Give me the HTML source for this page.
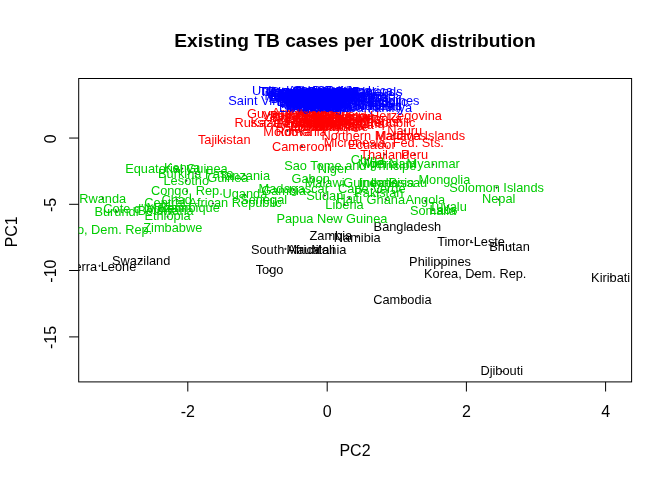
<!DOCTYPE html>
<html><head><meta charset="utf-8"><style>
html,body{margin:0;padding:0;background:#fff;}
svg{display:block;will-change:transform;font-family:"Liberation Sans",sans-serif;}
</style></head><body>
<svg width="672" height="480" viewBox="0 0 672 480">
<rect x="0" y="0" width="672" height="480" fill="#fff"/>
<text x="355" y="46.6" font-size="19.2" font-weight="bold" text-anchor="middle">Existing TB cases per 100K distribution</text>
<g stroke="#000" stroke-width="1" fill="none">
<rect x="78.7" y="78.5" width="552.9" height="303.4"/>
<path d="M187.8 381.9v9.6M327.2 381.9v9.6M466.4 381.9v9.6M605.6 381.9v9.6"/>
<path d="M78.7 138.06h-9.6M78.7 204.3h-9.6M78.7 270.5h-9.6M78.7 336.9h-9.6"/>
</g>
<g font-size="16" text-anchor="middle">
<text x="187.8" y="416.8">-2</text>
<text x="327.2" y="416.8">0</text>
<text x="466.4" y="416.8">2</text>
<text x="605.6" y="416.8">4</text>
<text x="355" y="455.7">PC2</text>
<g transform="rotate(-90)">
<text x="-138.7" y="55.9">0</text>
<text x="-204.9" y="55.9">-5</text>
<text x="-271.1" y="55.9">-10</text>
<text x="-337.5" y="55.9">-15</text>
<text x="-231.8" y="17.2">PC1</text>
</g>
</g>
<defs><clipPath id="plotclip"><rect x="78.7" y="78.5" width="552.9" height="303.4"/></clipPath></defs>
<g fill="none" stroke="#000" stroke-width="1" clip-path="url(#plotclip)"><circle cx="425.3" cy="200.9" r="0.6"/><circle cx="407.4" cy="227.2" r="0.6"/><circle cx="509.6" cy="245.8" r="0.6"/><circle cx="372.2" cy="117.1" r="0.6"/><circle cx="195.7" cy="173.3" r="0.6"/><circle cx="116.5" cy="211.4" r="0.6"/><circle cx="402.4" cy="299.4" r="0.6"/><circle cx="301.9" cy="146.2" r="0.6"/><circle cx="371.8" cy="189.3" r="0.6"/><circle cx="213.0" cy="203.4" r="0.6"/><circle cx="176.7" cy="199.5" r="0.6"/><circle cx="367.4" cy="159.7" r="0.6"/><circle cx="186.8" cy="191.3" r="0.6"/><circle cx="475.2" cy="274.6" r="0.6"/><circle cx="501.7" cy="371.5" r="0.6"/><circle cx="371.8" cy="143.8" r="0.6"/><circle cx="176.4" cy="169.8" r="0.6"/><circle cx="167.5" cy="216.8" r="0.6"/><circle cx="310.7" cy="178.1" r="0.6"/><circle cx="385.8" cy="199.3" r="0.6"/><circle cx="269.4" cy="114.5" r="0.6"/><circle cx="349.2" cy="198.2" r="0.6"/><circle cx="182.1" cy="168.6" r="0.6"/><circle cx="610.7" cy="277.0" r="0.6"/><circle cx="186.3" cy="180.7" r="0.6"/><circle cx="344.5" cy="204.5" r="0.6"/><circle cx="293.7" cy="189.8" r="0.6"/><circle cx="324.6" cy="182.5" r="0.6"/><circle cx="323.0" cy="249.6" r="0.6"/><circle cx="316.5" cy="249.6" r="0.6"/><circle cx="383.8" cy="143.6" r="0.6"/><circle cx="433.2" cy="164.6" r="0.6"/><circle cx="357.3" cy="236.8" r="0.6"/><circle cx="404.7" cy="130.4" r="0.6"/><circle cx="498.7" cy="199.6" r="0.6"/><circle cx="333.0" cy="169.6" r="0.6"/><circle cx="393.3" cy="135.3" r="0.6"/><circle cx="378.8" cy="192.4" r="0.6"/><circle cx="331.9" cy="219.5" r="0.6"/><circle cx="414.5" cy="154.2" r="0.6"/><circle cx="440.1" cy="263.1" r="0.6"/><circle cx="287.5" cy="130.9" r="0.6"/><circle cx="301.1" cy="131.7" r="0.6"/><circle cx="289.9" cy="122.4" r="0.6"/><circle cx="102.7" cy="198.0" r="0.6"/><circle cx="323.9" cy="99.8" r="0.6"/><circle cx="350.3" cy="166.8" r="0.6"/><circle cx="263.7" cy="200.2" r="0.6"/><circle cx="99.6" cy="265.8" r="0.6"/><circle cx="496.6" cy="187.6" r="0.6"/><circle cx="433.0" cy="210.2" r="0.6"/><circle cx="285.4" cy="248.9" r="0.6"/><circle cx="324.8" cy="195.5" r="0.6"/><circle cx="141.2" cy="260.5" r="0.6"/><circle cx="224.2" cy="141.0" r="0.6"/><circle cx="384.8" cy="154.4" r="0.6"/><circle cx="471.1" cy="241.0" r="0.6"/><circle cx="269.6" cy="270.7" r="0.6"/><circle cx="447.9" cy="206.1" r="0.6"/><circle cx="244.9" cy="194.8" r="0.6"/><circle cx="244.4" cy="175.0" r="0.6"/><circle cx="330.8" cy="235.2" r="0.6"/></g>
<g clip-path="url(#plotclip)" font-size="12.8">
<text x="285.6" y="101.0" fill="#0000FF">Afghanistan</text>
<text x="281.1" y="97.0" fill="#0000FF">Albania</text>
<text x="282.7" y="129.7" fill="#FF0000">Algeria</text>
<text x="276.3" y="99.6" fill="#0000FF">American Samoa</text>
<text x="287.9" y="95.0" fill="#0000FF">Andorra</text>
<text x="405.4" y="204.2" fill="#00CD00">Angola</text>
<text x="291.7" y="112.5" fill="#0000FF">Anguilla</text>
<text x="269.1" y="102.2" fill="#0000FF">Antigua and Barbuda</text>
<text x="279.0" y="99.8" fill="#0000FF">Argentina</text>
<text x="271.7" y="116.9" fill="#FF0000">Armenia</text>
<text x="286.7" y="98.2" fill="#0000FF">Australia</text>
<text x="313.5" y="97.7" fill="#0000FF">Austria</text>
<text x="276.4" y="126.7" fill="#FF0000">Azerbaijan</text>
<text x="270.5" y="102.8" fill="#0000FF">Bahamas</text>
<text x="278.4" y="104.8" fill="#0000FF">Bahrain</text>
<text x="373.6" y="230.5" fill="#000000">Bangladesh</text>
<text x="293.5" y="101.6" fill="#0000FF">Barbados</text>
<text x="311.1" y="119.3" fill="#FF0000">Belarus</text>
<text x="312.2" y="95.1" fill="#0000FF">Belgium</text>
<text x="307.5" y="109.7" fill="#0000FF">Belize</text>
<text x="158.6" y="211.5" fill="#00CD00">Benin</text>
<text x="269.2" y="100.8" fill="#0000FF">Bermuda</text>
<text x="489.3" y="250.5" fill="#000000">Bhutan</text>
<text x="298.7" y="127.1" fill="#FF0000">Bolivia</text>
<text x="302.5" y="120.4" fill="#FF0000">Bosnia and Herzegovina</text>
<text x="137.5" y="214.6" fill="#00CD00">Botswana</text>
<text x="317.5" y="124.1" fill="#FF0000">Brazil</text>
<text x="279.3" y="106.9" fill="#0000FF">British Virgin Islands</text>
<text x="267.9" y="96.0" fill="#0000FF">Brunei Darussalam</text>
<text x="285.7" y="107.1" fill="#0000FF">Bulgaria</text>
<text x="158.0" y="178.0" fill="#00CD00">Burkina Faso</text>
<text x="94.4" y="216.1" fill="#00CD00">Burundi</text>
<text x="373.2" y="304.1" fill="#000000">Cambodia</text>
<text x="272.0" y="150.9" fill="#FF0000">Cameroon</text>
<text x="282.1" y="96.9" fill="#0000FF">Canada</text>
<text x="338.0" y="192.6" fill="#00CD00">Cape Verde</text>
<text x="286.7" y="110.2" fill="#0000FF">Cayman Islands</text>
<text x="144.3" y="206.7" fill="#00CD00">Central African Republic</text>
<text x="161.4" y="204.2" fill="#00CD00">Chad</text>
<text x="316.6" y="108.0" fill="#0000FF">Chile</text>
<text x="350.7" y="164.4" fill="#00CD00">China</text>
<text x="292.9" y="105.5" fill="#0000FF">Colombia</text>
<text x="328.2" y="123.2" fill="#FF0000">Comoros</text>
<text x="150.9" y="194.6" fill="#00CD00">Congo, Rep.</text>
<text x="284.0" y="98.4" fill="#0000FF">Cook Islands</text>
<text x="291.9" y="97.8" fill="#0000FF">Costa Rica</text>
<text x="316.5" y="95.4" fill="#0000FF">Croatia</text>
<text x="310.1" y="103.7" fill="#0000FF">Cuba</text>
<text x="304.0" y="105.0" fill="#0000FF">Cyprus</text>
<text x="279.8" y="102.6" fill="#0000FF">Czech Republic</text>
<text x="103.3" y="212.7" fill="#00CD00">Cote d&#39;Ivoire</text>
<text x="424.0" y="277.9" fill="#000000">Korea, Dem. Rep.</text>
<text x="46.3" y="234.0" fill="#00CD00">Congo, Dem. Rep.</text>
<text x="276.8" y="105.7" fill="#0000FF">Denmark</text>
<text x="480.4" y="374.8" fill="#000000">Djibouti</text>
<text x="306.7" y="108.5" fill="#0000FF">Dominica</text>
<text x="301.5" y="126.6" fill="#FF0000">Dominican Republic</text>
<text x="348.0" y="148.5" fill="#FF0000">Ecuador</text>
<text x="313.1" y="104.6" fill="#0000FF">Egypt</text>
<text x="304.1" y="121.0" fill="#FF0000">El Salvador</text>
<text x="125.2" y="173.1" fill="#00CD00">Equatorial Guinea</text>
<text x="305.5" y="99.1" fill="#0000FF">Eritrea</text>
<text x="296.8" y="118.9" fill="#FF0000">Estonia</text>
<text x="144.4" y="220.1" fill="#00CD00">Ethiopia</text>
<text x="312.9" y="128.0" fill="#FF0000">Fiji</text>
<text x="273.3" y="97.5" fill="#0000FF">Finland</text>
<text x="290.5" y="109.5" fill="#0000FF">France</text>
<text x="278.7" y="99.4" fill="#0000FF">French Polynesia</text>
<text x="291.5" y="182.8" fill="#00CD00">Gabon</text>
<text x="261.2" y="194.8" fill="#00CD00">Gambia</text>
<text x="273.6" y="128.4" fill="#FF0000">Georgia</text>
<text x="269.9" y="96.4" fill="#0000FF">Germany</text>
<text x="366.6" y="204.0" fill="#00CD00">Ghana</text>
<text x="294.8" y="95.2" fill="#0000FF">Greece</text>
<text x="305.3" y="102.0" fill="#0000FF">Grenada</text>
<text x="284.8" y="109.3" fill="#0000FF">Guam</text>
<text x="302.3" y="130.1" fill="#FF0000">Guatemala</text>
<text x="207.2" y="182.2" fill="#00CD00">Guinea</text>
<text x="343.3" y="187.2" fill="#00CD00">Guinea-Bissau</text>
<text x="247.0" y="117.8" fill="#FF0000">Guyana</text>
<text x="336.4" y="202.9" fill="#00CD00">Haiti</text>
<text x="343.0" y="125.8" fill="#FF0000">Honduras</text>
<text x="313.1" y="103.1" fill="#0000FF">Hungary</text>
<text x="304.0" y="110.5" fill="#0000FF">Iceland</text>
<text x="370.8" y="187.2" fill="#00CD00">India</text>
<text x="358.8" y="186.9" fill="#00CD00">Indonesia</text>
<text x="305.2" y="98.0" fill="#0000FF">Iran</text>
<text x="318.4" y="126.2" fill="#FF0000">Iraq</text>
<text x="302.3" y="110.7" fill="#0000FF">Ireland</text>
<text x="310.1" y="101.2" fill="#0000FF">Israel</text>
<text x="307.7" y="103.5" fill="#0000FF">Italy</text>
<text x="307.9" y="100.6" fill="#0000FF">Jamaica</text>
<text x="292.6" y="106.2" fill="#0000FF">Japan</text>
<text x="293.5" y="107.8" fill="#0000FF">Jordan</text>
<text x="250.4" y="127.4" fill="#FF0000">Kazakhstan</text>
<text x="164.0" y="171.9" fill="#00CD00">Kenya</text>
<text x="591.1" y="281.7" fill="#000000">Kiribati</text>
<text x="311.3" y="101.8" fill="#0000FF">Kuwait</text>
<text x="286.1" y="118.4" fill="#FF0000">Kyrgyzstan</text>
<text x="429.6" y="214.2" fill="#00CD00">Laos</text>
<text x="317.4" y="123.6" fill="#FF0000">Latvia</text>
<text x="293.4" y="105.3" fill="#0000FF">Lebanon</text>
<text x="163.5" y="185.4" fill="#00CD00">Lesotho</text>
<text x="325.3" y="209.2" fill="#00CD00">Liberia</text>
<text x="279.0" y="112.2" fill="#0000FF">Libyan Arab Jamahiriya</text>
<text x="290.1" y="131.0" fill="#FF0000">Lithuania</text>
<text x="293.8" y="100.4" fill="#0000FF">Luxembourg</text>
<text x="258.5" y="193.1" fill="#00CD00">Madagascar</text>
<text x="304.7" y="187.2" fill="#00CD00">Malawi</text>
<text x="307.5" y="131.4" fill="#FF0000">Malaysia</text>
<text x="375.7" y="140.4" fill="#FF0000">Maldives</text>
<text x="311.3" y="254.3" fill="#000000">Mali</text>
<text x="319.9" y="106.6" fill="#0000FF">Malta</text>
<text x="286.6" y="254.3" fill="#000000">Mauritania</text>
<text x="286.7" y="100.0" fill="#0000FF">Mauritius</text>
<text x="288.9" y="111.2" fill="#0000FF">Mexico</text>
<text x="323.7" y="146.9" fill="#FF0000">Micronesia, Fed. Sts.</text>
<text x="293.6" y="98.5" fill="#0000FF">Monaco</text>
<text x="418.4" y="184.0" fill="#00CD00">Mongolia</text>
<text x="285.6" y="97.2" fill="#0000FF">Montserrat</text>
<text x="295.1" y="121.9" fill="#FF0000">Morocco</text>
<text x="146.5" y="211.7" fill="#00CD00">Mozambique</text>
<text x="406.5" y="167.9" fill="#00CD00">Myanmar</text>
<text x="333.8" y="241.5" fill="#000000">Namibia</text>
<text x="387.3" y="135.1" fill="#FF0000">Nauru</text>
<text x="482.0" y="202.9" fill="#00CD00">Nepal</text>
<text x="282.4" y="108.3" fill="#0000FF">Netherlands</text>
<text x="280.9" y="107.6" fill="#0000FF">Netherlands Antilles</text>
<text x="264.6" y="100.2" fill="#0000FF">New Caledonia</text>
<text x="295.4" y="95.1" fill="#0000FF">New Zealand</text>
<text x="315.5" y="128.8" fill="#FF0000">Nicaragua</text>
<text x="317.7" y="172.9" fill="#00CD00">Niger</text>
<text x="357.7" y="167.5" fill="#00CD00">Nigeria</text>
<text x="285.9" y="125.4" fill="#FF0000">Niue</text>
<text x="321.4" y="140.0" fill="#FF0000">Northern Mariana Islands</text>
<text x="281.1" y="96.6" fill="#0000FF">Norway</text>
<text x="291.1" y="105.9" fill="#0000FF">Oman</text>
<text x="354.3" y="197.1" fill="#00CD00">Pakistan</text>
<text x="369.1" y="110.1" fill="#0000FF">Palau</text>
<text x="301.7" y="111.5" fill="#0000FF">Panama</text>
<text x="276.4" y="222.8" fill="#00CD00">Papua New Guinea</text>
<text x="269.7" y="119.7" fill="#FF0000">Paraguay</text>
<text x="401.0" y="158.9" fill="#FF0000">Peru</text>
<text x="409.1" y="266.4" fill="#000000">Philippines</text>
<text x="311.6" y="112.0" fill="#0000FF">Poland</text>
<text x="304.5" y="111.7" fill="#0000FF">Portugal</text>
<text x="288.7" y="98.9" fill="#0000FF">Puerto Rico</text>
<text x="303.7" y="96.7" fill="#0000FF">Qatar</text>
<text x="271.9" y="122.3" fill="#FF0000">Korea, Rep.</text>
<text x="263.3" y="135.6" fill="#FF0000">Moldova</text>
<text x="275.5" y="136.4" fill="#FF0000">Romania</text>
<text x="234.4" y="127.1" fill="#FF0000">Russian Federation</text>
<text x="79.2" y="202.7" fill="#00CD00">Rwanda</text>
<text x="284.0" y="110.0" fill="#0000FF">Saint Kitts and Nevis</text>
<text x="293.2" y="104.1" fill="#0000FF">Saint Lucia</text>
<text x="228.3" y="104.5" fill="#0000FF">Saint Vincent and the Grenadines</text>
<text x="328.7" y="121.5" fill="#FF0000">Samoa</text>
<text x="284.0" y="109.0" fill="#0000FF">San Marino</text>
<text x="284.2" y="170.1" fill="#00CD00">Sao Tome and Principe</text>
<text x="285.0" y="99.3" fill="#0000FF">Saudi Arabia</text>
<text x="240.2" y="203.5" fill="#00CD00">Senegal</text>
<text x="293.9" y="95.8" fill="#0000FF">Seychelles</text>
<text x="63.0" y="270.5" fill="#000000">Sierra Leone</text>
<text x="288.8" y="103.9" fill="#0000FF">Singapore</text>
<text x="303.0" y="104.4" fill="#0000FF">Slovakia</text>
<text x="300.2" y="96.2" fill="#0000FF">Slovenia</text>
<text x="449.3" y="192.3" fill="#00CD00">Solomon Islands</text>
<text x="409.9" y="214.9" fill="#00CD00">Somalia</text>
<text x="250.9" y="253.6" fill="#000000">South Africa</text>
<text x="325.8" y="95.3" fill="#0000FF">Spain</text>
<text x="347.9" y="122.8" fill="#FF0000">Sri Lanka</text>
<text x="306.3" y="200.2" fill="#00CD00">Sudan</text>
<text x="313.5" y="130.6" fill="#FF0000">Suriname</text>
<text x="112.0" y="265.2" fill="#000000">Swaziland</text>
<text x="298.8" y="98.7" fill="#0000FF">Sweden</text>
<text x="279.8" y="106.4" fill="#0000FF">Switzerland</text>
<text x="287.8" y="106.1" fill="#0000FF">Syrian Arab Republic</text>
<text x="265.9" y="95.6" fill="#0000FF">Macedonia, FYR</text>
<text x="197.9" y="144.3" fill="#FF0000">Tajikistan</text>
<text x="360.2" y="159.1" fill="#FF0000">Thailand</text>
<text x="437.2" y="245.7" fill="#000000">Timor-Leste</text>
<text x="255.7" y="274.0" fill="#000000">Togo</text>
<text x="295.8" y="108.8" fill="#0000FF">Tokelau</text>
<text x="313.7" y="124.5" fill="#FF0000">Tonga</text>
<text x="271.1" y="102.4" fill="#0000FF">Trinidad and Tobago</text>
<text x="293.6" y="96.3" fill="#0000FF">Tunisia</text>
<text x="303.3" y="107.3" fill="#0000FF">Turkey</text>
<text x="298.4" y="120.6" fill="#FF0000">Turkmenistan</text>
<text x="259.4" y="95.9" fill="#0000FF">Turks and Caicos Islands</text>
<text x="428.9" y="210.8" fill="#00CD00">Tuvalu</text>
<text x="222.5" y="198.1" fill="#00CD00">Uganda</text>
<text x="290.3" y="118.0" fill="#FF0000">Ukraine</text>
<text x="280.5" y="98.7" fill="#0000FF">United Arab Emirates</text>
<text x="262.0" y="95.5" fill="#0000FF">United Kingdom</text>
<text x="218.8" y="179.7" fill="#00CD00">Tanzania</text>
<text x="287.4" y="111.0" fill="#0000FF">Virgin Islands (U.S.)</text>
<text x="252.1" y="95.1" fill="#0000FF">United States of America</text>
<text x="296.7" y="103.3" fill="#0000FF">Uruguay</text>
<text x="304.1" y="124.9" fill="#FF0000">Uzbekistan</text>
<text x="262.0" y="120.2" fill="#FF0000">Vanuatu</text>
<text x="292.9" y="97.4" fill="#0000FF">Venezuela</text>
<text x="363.9" y="168.1" fill="#00CD00">Viet Nam</text>
<text x="293.3" y="127.5" fill="#FF0000">Wallis et Futuna</text>
<text x="267.3" y="101.4" fill="#0000FF">West Bank and Gaza</text>
<text x="311.3" y="129.3" fill="#FF0000">Yemen</text>
<text x="309.5" y="239.9" fill="#000000">Zambia</text>
<text x="143.3" y="232.3" fill="#00CD00">Zimbabwe</text>
</g>
</svg>
</body></html>
